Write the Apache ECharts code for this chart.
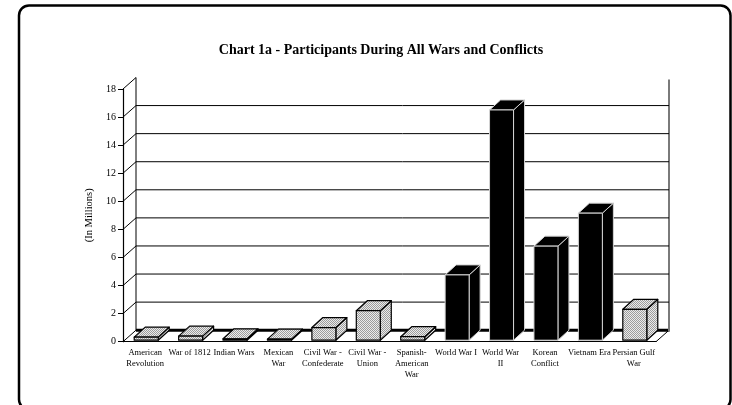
<!DOCTYPE html>
<html>
<head>
<meta charset="utf-8">
<script src="https://cdn.jsdelivr.net/npm/echarts@6/dist/echarts.min.js"></script>
<style>
  html, body { margin: 0; padding: 0; background: #fff; }
  #chart { width: 732px; height: 405px; }
</style>
</head>
<body>
<div id="chart"></div>
<script>
// Participants (millions) in each war or conflict
const categories = [
  'American\nRevolution', 'War of 1812', 'Indian Wars', 'Mexican\nWar',
  'Civil War -\nConfederate', 'Civil War -\nUnion', 'Spanish-\nAmerican\nWar',
  'World War I', 'World War\nII', 'Korean\nConflict', 'Vietnam Era', 'Persian Gulf\nWar'
];
const participants = [0.22, 0.29, 0.1, 0.08, 0.9, 2.1, 0.25, 4.65, 16.4, 6.7, 9.05, 2.2];
// Categories drawn as solid black columns; the rest get the stippled fill
const solidCategories = ['World War I', 'World War\nII', 'Korean\nConflict', 'Vietnam Era'];
const yTicks = [0, 2, 4, 6, 8, 10, 12, 14, 16, 18];

// Depth offsets of the back wall and of the columns (pixels)
const WALL_DX = 13, WALL_DY = -11.5;
const BAR_DX = 11, BAR_DY = -10;
const BAR_SHIFT_X = 1, BAR_SHIFT_Y = -1.5;
const BAR_WIDTH = 0.54;

// Fine stipple used for the grey columns
const stipple = document.createElement('canvas');
stipple.width = 2; stipple.height = 2;
(function () {
  const c = stipple.getContext('2d');
  c.fillStyle = '#ebebeb'; c.fillRect(0, 0, 2, 2);
  c.fillStyle = '#9c9c9c'; c.fillRect(0, 0, 1, 1); c.fillRect(1, 1, 1, 1);
})();
const stippleFill = { image: stipple, repeat: 'repeat' };

function line(x1, y1, x2, y2, color, width) {
  return { type: 'line', shape: { x1, y1, x2, y2 }, style: { stroke: color, lineWidth: width }, silent: true };
}

// Back wall, floor and the receding lines from each tick
function renderWall(params, api) {
  const cs = params.coordSys;
  const v = api.value(1);
  const y = api.coord([0, v])[1];
  const xl = cs.x, xr = cs.x + cs.width;
  const children = [line(xl, y, xl + WALL_DX, y + WALL_DY, '#000', 1)];
  const maxV = yTicks[yTicks.length - 1];
  if (v === 0) {
    const yTop = api.coord([0, maxV])[1];
    children.push(line(xl + WALL_DX, y + WALL_DY, xr + WALL_DX, y + WALL_DY, '#000', 3));
    children.push(line(xr, y, xr + WALL_DX, y + WALL_DY, '#000', 1));
    children.push(line(xl + WALL_DX, y + WALL_DY, xl + WALL_DX, yTop + WALL_DY, '#000', 1));
    children.push(line(xr + WALL_DX, y + WALL_DY + 1.5, xr + WALL_DX, yTop + WALL_DY + 2, '#7a7a7a', 2));
  } else if (v < maxV) {
    children.push(line(xl + WALL_DX, y + WALL_DY, xr + WALL_DX, y + WALL_DY, '#000', 1));
  }
  return { type: 'group', children };
}

// One box-shaped column: right side, top and front face
function renderBar(params, api) {
  const idx = api.value(0);
  const v = api.value(1);
  const base = api.coord([idx, 0]);
  const top = api.coord([idx, v]);
  const w = api.size([1, 0])[0] * BAR_WIDTH;
  const x0 = base[0] - w / 2 + BAR_SHIFT_X, x1 = x0 + w;
  const yb = base[1] + BAR_SHIFT_Y, yt = top[1] + BAR_SHIFT_Y;
  const solid = solidCategories.indexOf(categories[idx]) >= 0;
  const style = {
    fill: solid ? '#000' : stippleFill,
    stroke: solid ? '#d4d4d4' : '#000',
    lineWidth: solid ? 1 : 1.2,
    lineJoin: 'round'
  };
  return {
    type: 'group',
    children: [
      { type: 'polygon', shape: { points: [[x1, yb], [x1 + BAR_DX, yb + BAR_DY], [x1 + BAR_DX, yt + BAR_DY], [x1, yt]] }, style },
      { type: 'polygon', shape: { points: [[x0, yt], [x1, yt], [x1 + BAR_DX, yt + BAR_DY], [x0 + BAR_DX, yt + BAR_DY]] }, style },
      { type: 'rect', shape: { x: x0, y: yt, width: w, height: yb - yt }, style }
    ]
  };
}

const serif = 'Liberation Serif';
const chart = echarts.init(document.getElementById('chart'), null, { renderer: 'canvas' });
chart.setOption({
  animation: false,
  backgroundColor: '#fff',
  title: {
    text: 'Chart 1a - Participants During All Wars and Conflicts',
    left: 376, top: 38, textAlign: 'center',
    textStyle: { fontFamily: serif, fontWeight: 'bold', fontSize: 14, color: '#000' }
  },
  graphic: [{
    type: 'rect', silent: true, z: 100,
    shape: { x: 19, y: 5.5, width: 711.5, height: 404, r: 10 },
    style: { fill: null, stroke: '#000', lineWidth: 2.5 }
  }],
  grid: { left: 123, right: 76, top: 89, bottom: 63.3 },
  xAxis: {
    type: 'category',
    data: categories,
    axisLine: { lineStyle: { color: '#000', width: 1.2 } },
    axisTick: { length: 5, lineStyle: { color: '#000', width: 1 } },
    axisLabel: { interval: 0, fontFamily: serif, fontSize: 8.5, lineHeight: 11, color: '#000', margin: 6 },
    splitLine: { show: false }
  },
  yAxis: {
    type: 'value', min: 0, max: 18, interval: 2,
    name: '(In Millions)', nameLocation: 'middle', nameGap: 22,
    nameTextStyle: { fontFamily: serif, fontSize: 10.5, color: '#000' },
    axisLine: { show: true, lineStyle: { color: '#000', width: 1.2 } },
    axisTick: { show: true, length: 5, lineStyle: { color: '#000', width: 1 } },
    axisLabel: { fontFamily: serif, fontSize: 10, color: '#000', margin: 7 },
    splitLine: { show: false }
  },
  series: [
    {
      type: 'custom', name: 'wall', z: 1, silent: true,
      renderItem: renderWall,
      data: yTicks.map(v => [0, v])
    },
    {
      type: 'custom', name: 'Participants', z: 3,
      renderItem: renderBar,
      encode: { x: 0, y: 1 },
      data: participants.map((v, i) => [i, v])
    }
  ]
});
</script>
</body>
</html>
